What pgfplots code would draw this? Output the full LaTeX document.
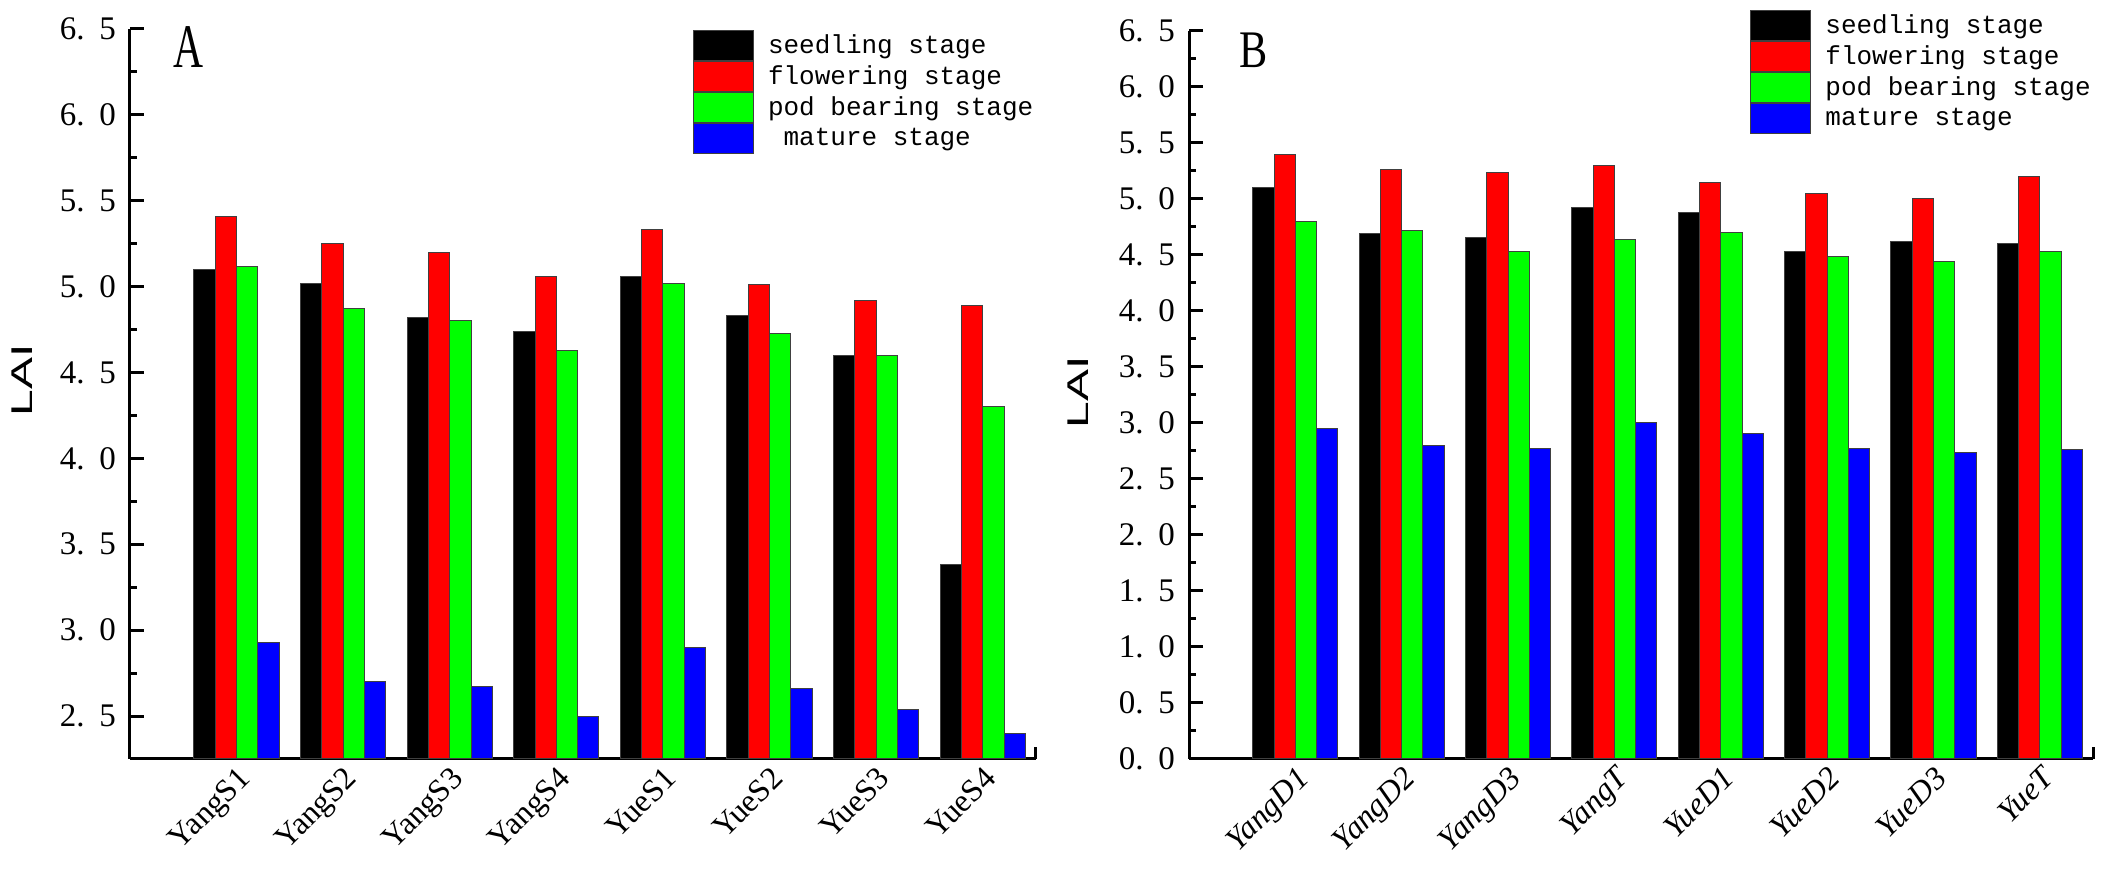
\documentclass[border=0pt]{standalone}
\usepackage{fontspec}
\setmainfont{Liberation Serif}
\newfontfamily\legfont{Liberation Mono}
\newfontfamily\labfont{Liberation Sans}
\usepackage{graphicx}
\usepackage{pgfplots}
\usepackage{pgfplotstable}
\pgfplotsset{compat=1.18}

\definecolor{stred}{RGB}{255,0,0}
\definecolor{stgreen}{RGB}{0,255,0}
\definecolor{stblue}{RGB}{0,0,255}

% x: group index, s: seedling, f: flowering, p: pod bearing, m: mature
\pgfplotstableread{
x s    f    p    m
0 5.10 5.41 5.12 2.93
1 5.02 5.25 4.87 2.70
2 4.82 5.20 4.80 2.67
3 4.74 5.06 4.63 2.50
4 5.06 5.33 5.02 2.90
5 4.83 5.01 4.73 2.66
6 4.60 4.92 4.60 2.54
7 3.38 4.89 4.30 2.40
}\tabA

\pgfplotstableread{
x s    f    p    m
0 5.10 5.40 4.80 2.95
1 4.69 5.26 4.72 2.80
2 4.66 5.24 4.53 2.77
3 4.92 5.30 4.64 3.00
4 4.88 5.15 4.70 2.91
5 4.53 5.05 4.49 2.77
6 4.62 5.00 4.44 2.74
7 4.60 5.20 4.53 2.76
}\tabB

\pgfplotsset{
  laibars/.style={
    scale only axis, width=453pt, height=365pt,
    xmin=-1, xmax=7.5,
    axis x line=bottom, axis y line=left,
    axis line style={line width=1.5pt, -},
    ybar, bar width=0.2,
    legend image code/.code={\draw[##1] (0pt,-7.5pt) rectangle (30pt,7.5pt);},
    xtick={0,1,2,3,4,5,6,7},
    xtick style={draw=none},
    ytick style={line width=1.5pt, black},
    tick align=inside,
    major tick length=7pt, minor tick length=3.5pt,
    minor y tick num=1,
    /pgf/number format/fixed,
    /pgf/number format/fixed zerofill,
    /pgf/number format/precision=1,
    /pgf/number format/assume math mode=true,
    /pgf/number format/dec sep={.\hspace{0.45em}},
    yticklabel style={font=\rmfamily\fontsize{16.5}{16.5}\selectfont, xshift=-3.5pt},
    xticklabel style={font=\fontsize{16}{16}\selectfont, rotate=45, anchor=north east, inner sep=2pt},
    legend style={draw=none, fill=none, inner sep=0pt, row sep=0pt, column sep=6pt,
      font=\legfont\fontsize{13}{13}\selectfont, nodes={inner sep=1pt}, anchor=north west},
    legend cell align=left,
  },
  stage/.style={draw=black!75, line width=0.5pt, fill=#1},
}

\begin{document}
\begin{tikzpicture}
\path[use as bounding box] (0,0) rectangle (1054pt,446pt);

\begin{axis}[laibars, name=A, at={(65pt,66.5pt)}, anchor=south west,
  ymin=2.25, ymax=6.5,
  ytick={2.5,3.0,3.5,4.0,4.5,5.0,5.5,6.0,6.5},
  xticklabels={YangS1,YangS2,YangS3,YangS4,YueS1,YueS2,YueS3,YueS4},
  legend style={at={(0.621,0.999)}}]
  \addplot[stage=black,   bar shift=-0.3] table[x=x,y=s]{\tabA};
  \addplot[stage=stred,   bar shift=-0.1] table[x=x,y=f]{\tabA};
  \addplot[stage=stgreen, bar shift=0.1]  table[x=x,y=p]{\tabA};
  \addplot[stage=stblue,  bar shift=0.3]  table[x=x,y=m]{\tabA};
  \addlegendentry{seedling stage}
  \addlegendentry{flowering stage}
  \addlegendentry{pod bearing stage}
  \addlegendentry{\ mature stage}
\end{axis}

\begin{axis}[laibars, name=B, at={(594.5pt,66.5pt)}, anchor=south west,
  width=452pt, height=364pt,
  ymin=0, ymax=6.5,
  ytick={0.0,0.5,1.0,1.5,2.0,2.5,3.0,3.5,4.0,4.5,5.0,5.5,6.0,6.5},
  xticklabels={YangD1,YangD2,YangD3,YangT,YueD1,YueD2,YueD3,YueT},
  xticklabel style={font=\itshape\fontsize{16}{16}\selectfont},
  legend style={at={(0.6206,1.029)}}]
  \addplot[stage=black,   bar shift=-0.3] table[x=x,y=s]{\tabB};
  \addplot[stage=stred,   bar shift=-0.1] table[x=x,y=f]{\tabB};
  \addplot[stage=stgreen, bar shift=0.1]  table[x=x,y=p]{\tabB};
  \addplot[stage=stblue,  bar shift=0.3]  table[x=x,y=m]{\tabB};
  \addlegendentry{seedling stage}
  \addlegendentry{flowering stage}
  \addlegendentry{pod bearing stage}
  \addlegendentry{mature stage}
\end{axis}

\draw[line width=1.5pt] (A.south east) -- ++(0,6pt);
\draw[line width=1.5pt] (B.south east) -- ++(0,6pt);

\node[font=\fontsize{31}{31}\selectfont] at (94pt,422.3pt) {\scalebox{0.67}[1]{A}};
\node[font=\fontsize{26.4}{26.4}\selectfont] at (627pt,420.8pt) {\scalebox{0.8}[1]{B}};
\node[rotate=90, font=\labfont\fontsize{15}{15}\selectfont] at (11pt,256pt) {\scalebox{1.6}[1]{LAI}};
\node[rotate=90, font=\labfont\fontsize{15}{15}\selectfont] at (539pt,250pt) {\scalebox{1.6}[1]{LAI}};
\end{tikzpicture}
\end{document}
